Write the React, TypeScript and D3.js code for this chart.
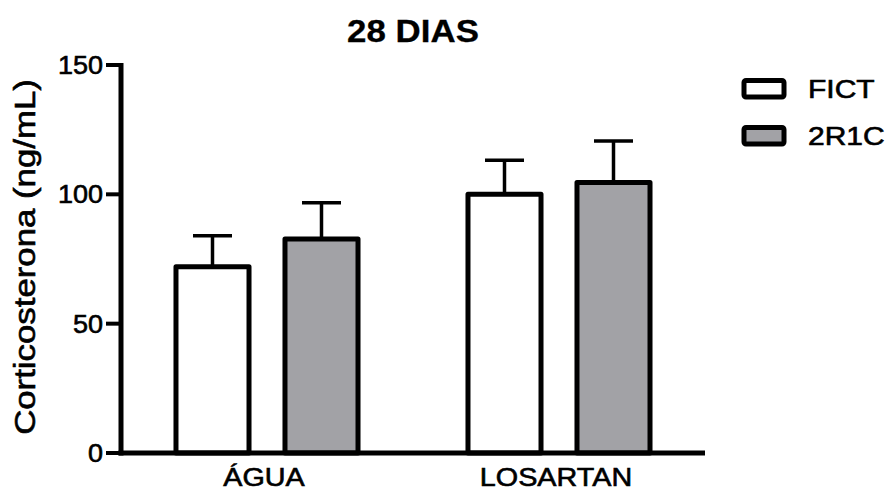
import React from "react";
import * as d3 from "d3";

// Corticosterone at 28 days, mean + SEM per treatment and group
const treatments = ["ÁGUA", "LOSARTAN"];
const groups = ["FICT", "2R1C"];
const meanFICT = [72, 100];
const meanR1C = [82.7, 104.6];
const semFICT = [12, 13.2];
const semR1C = [14, 16];
const yTicks = [0, 50, 100, 150];

const groupFill: Record<string, string> = { FICT: "#ffffff", "2R1C": "#a2a2a6" };

const W = 891;
const H = 492;
const left = 121;
const right = 705;
const top = 65;
const bottom = 453;
const font = "Arial, 'Liberation Sans', Helvetica, sans-serif";

type TextProps = {
  x: number;
  y: number;
  sx?: number;
  rotate?: number;
  size: number;
  weight?: string;
  anchor?: "start" | "middle" | "end";
  children: React.ReactNode;
};

function Label({ x, y, sx = 1, rotate = 0, size, weight = "normal", anchor = "start", children }: TextProps) {
  return (
    <g transform={`translate(${x},${y}) rotate(${rotate}) scale(${sx},1)`}>
      <text
        fontFamily={font}
        fontSize={size}
        fontWeight={weight}
        textAnchor={anchor}
        fill="#000"
        stroke="#000"
        strokeWidth={weight === "bold" ? 0.3 : 0.6}
      >
        {children}
      </text>
    </g>
  );
}

export default function App() {
  const data = treatments.map((t, i) => ({
    treatment: t,
    values: [
      { group: "FICT", mean: meanFICT[i], sem: semFICT[i] },
      { group: "2R1C", mean: meanR1C[i], sem: semR1C[i] },
    ],
  }));

  const y = d3.scaleLinear().domain([0, 150]).range([bottom, top]);
  const x0 = d3.scaleBand<string>().domain(treatments).range([left, right]).padding(0);
  const x1 = d3.scaleBand<string>().domain(groups).range([-109, 109]).padding(0);
  const barW = x1.bandwidth() * 0.67;
  const capW = 39;

  return (
    <svg width={W} height={H} style={{ position: "absolute", left: 0, top: 0, background: "#fff" }}>
      <rect x={0} y={0} width={W} height={H} fill="#fff" />

      {/* title */}
      <Label x={(left + right) / 2} y={42} sx={1.09} size={32} weight="bold" anchor="middle">
        28 DIAS
      </Label>

      {/* bars with SEM whiskers */}
      {data.map((d) => {
        const gx = (x0(d.treatment) ?? 0) + x0.bandwidth() / 2;
        return (
          <g key={d.treatment}>
            {d.values.map((v) => {
              const cx = gx + (x1(v.group) ?? 0) + x1.bandwidth() / 2;
              const yTop = y(v.mean);
              const yErr = y(v.mean + v.sem);
              return (
                <g key={v.group}>
                  <line x1={cx} x2={cx} y1={yTop} y2={yErr} stroke="#000" strokeWidth={3.5} />
                  <line x1={cx - capW / 2} x2={cx + capW / 2} y1={yErr} y2={yErr} stroke="#000" strokeWidth={3.5} />
                  <rect
                    x={cx - barW / 2}
                    y={yTop}
                    width={barW}
                    height={bottom - yTop}
                    fill={groupFill[v.group]}
                    stroke="#000"
                    strokeWidth={5}
                    strokeLinejoin="round"
                  />
                </g>
              );
            })}
          </g>
        );
      })}

      {/* y axis */}
      <line x1={left} x2={left} y1={top - 2} y2={bottom + 2.5} stroke="#000" strokeWidth={5} />
      {yTicks.map((t) => (
        <g key={t}>
          <line x1={106} x2={left} y1={y(t)} y2={y(t)} stroke="#000" strokeWidth={4} />
          <Label x={103} y={y(t) + 9} sx={1.08} size={25} anchor="end">
            {t}
          </Label>
        </g>
      ))}

      {/* x axis */}
      <line x1={left - 2.5} x2={right} y1={bottom} y2={bottom} stroke="#000" strokeWidth={5} />
      {treatments.map((t) => (
        <Label key={t} x={(x0(t) ?? 0) + x0.bandwidth() / 2 - 3} y={486} sx={1.15} size={25} anchor="middle">
          {t}
        </Label>
      ))}

      {/* y axis title */}
      <Label x={35} y={257} rotate={-90} sx={1.2} size={29} anchor="middle">
        Corticosterona (ng/mL)
      </Label>

      {/* legend */}
      {groups.map((g, i) => (
        <g key={g}>
          <rect x={744} y={80.5 + i * 47} width={40} height={16.5} fill={groupFill[g]} stroke="#000" strokeWidth={5} rx={2} />
          <Label x={808} y={98 + i * 47} sx={1.2} size={25}>
            {g}
          </Label>
        </g>
      ))}
    </svg>
  );
}
